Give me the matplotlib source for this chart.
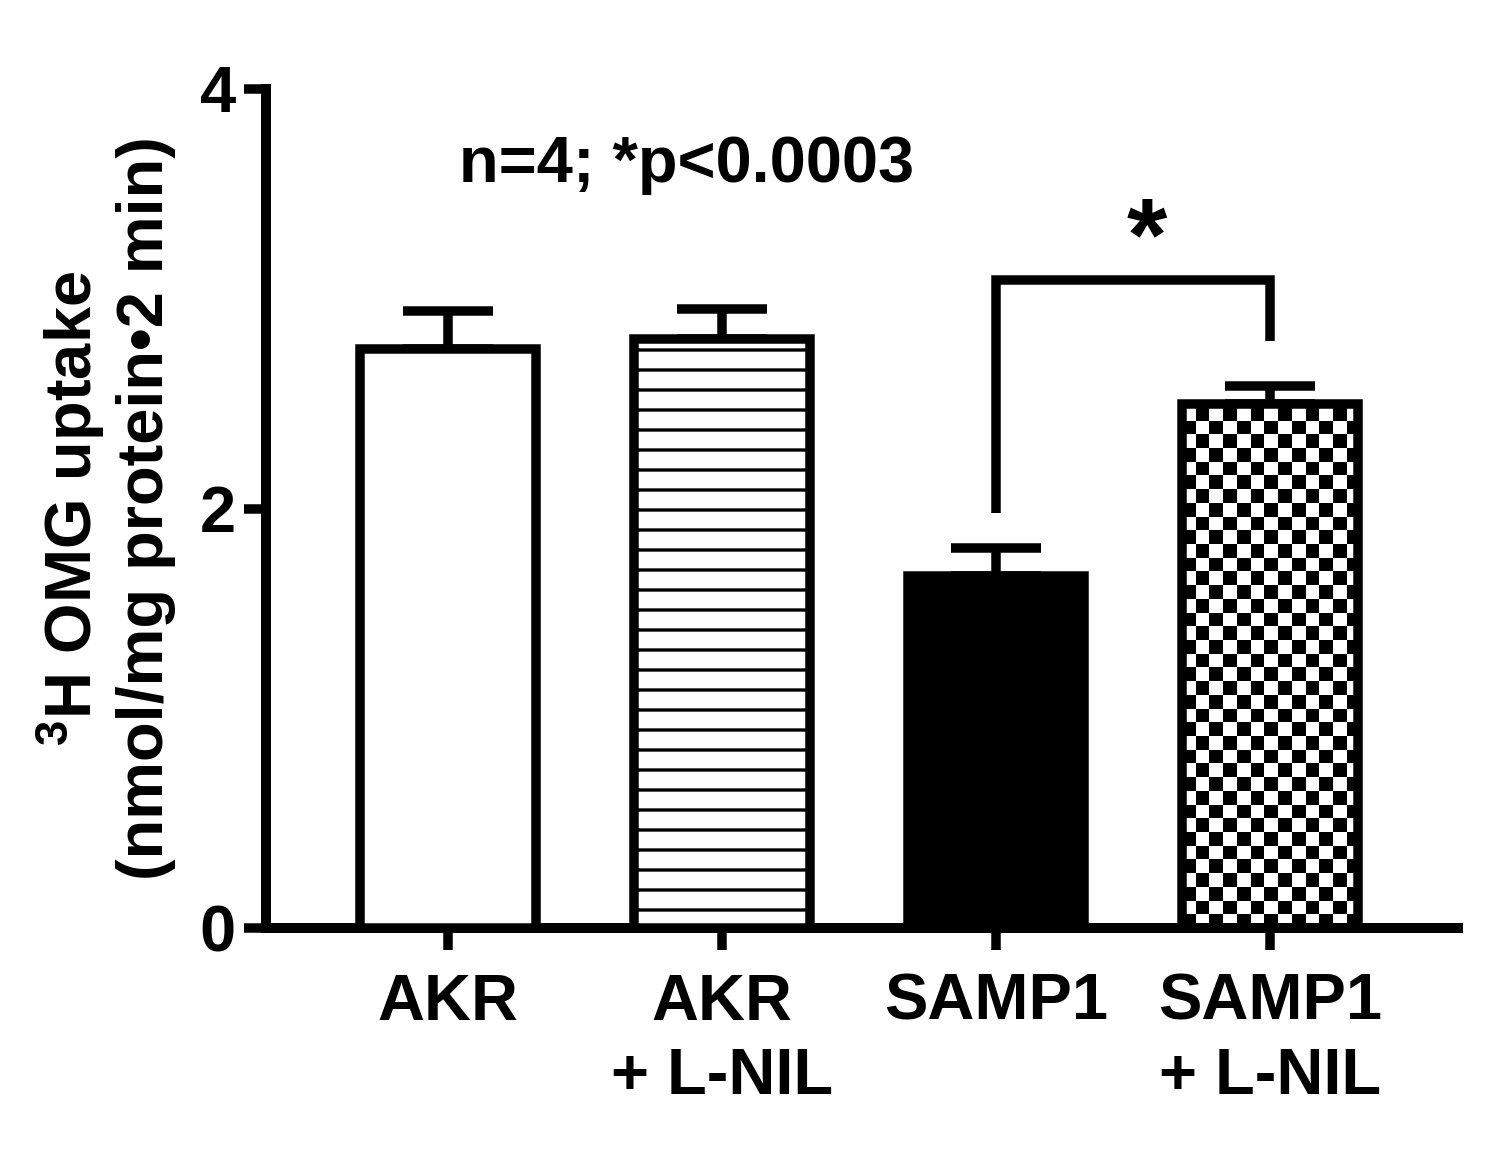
import matplotlib
matplotlib.use('Agg')
import matplotlib.pyplot as plt
import numpy as np

plt.rcParams['font.family'] = ['Liberation Sans', 'DejaVu Sans']
plt.rcParams['font.weight'] = 'bold'
plt.rcParams['mathtext.default'] = 'regular'
plt.rcParams['hatch.linewidth'] = 2.0

# data
groups = ['AKR', 'AKR\n+ L-NIL', 'SAMP1', 'SAMP1\n+ L-NIL']
uptake = [2.76, 2.81, 1.68, 2.50]
sem = [0.18, 0.14, 0.13, 0.085]
fills = ['white', 'white', 'black', 'white']

# significance bracket between SAMP1 and SAMP1 + L-NIL
brk_x = [2, 2, 3, 3]
brk_y = [1.98, 3.09, 3.09, 2.80]
star_pos = (2.55, 3.26)
note = 'n=4; *p<0.0003'
note_pos = (0.87, 3.64)

LW = 5.7
FS = 39

fig = plt.figure(figsize=(1501/120, 1150/120), dpi=120)
ax = fig.add_axes([266/1501, 1-928/1150, (1458-266)/1501, (928-89)/1150])

xpos = np.arange(len(groups))
barWidth = 0.64
bars = ax.bar(xpos, uptake, width=barWidth, color=fills, edgecolor='black', linewidth=LW, zorder=3)
bars[1].set_hatch('-')

# checkerboard fill for last bar, clipped to the bar
b = bars[3]
cx, cy = 0.05, 0.0653
x0, w, h = b.get_x(), b.get_width(), b.get_height()
nx, ny = int(np.ceil(w/cx)), int(np.ceil(h/cy))
jj, ii = np.indices((ny, nx))
checker = (ii + jj) % 2
im = ax.imshow(checker, cmap='gray', interpolation='nearest', aspect='auto',
               extent=(x0, x0+nx*cx, 0, ny*cy), origin='lower', zorder=2.5)
im.set_clip_path(b)
b.set_facecolor('none')

ax.errorbar(xpos, uptake, yerr=[np.zeros(len(sem)), sem], fmt='none', ecolor='black',
            elinewidth=LW, capsize=27, capthick=LW, zorder=2)

ax.plot(brk_x, brk_y, color='black', linewidth=LW, solid_joinstyle='miter', solid_capstyle='butt')
ax.text(star_pos[0], star_pos[1], '*', fontsize=62, ha='center', va='center')
ax.text(note_pos[0], note_pos[1], note, fontsize=FS, ha='center', va='center')

ax.set_xlim(-0.664, 3.686)
ax.set_ylim(0, 4)
ax.set_xticks(xpos)
ax.set_xticklabels(groups, fontsize=FS, linespacing=1.3)
ax.set_yticks([0, 2, 4])
ax.tick_params(axis='y', labelsize=FS)
ax.tick_params(direction='out', length=13, width=LW, pad=5)
ax.tick_params(axis='x', pad=14)
for s in ['top', 'right']:
    ax.spines[s].set_visible(False)
for s in ['left', 'bottom']:
    ax.spines[s].set_linewidth(6)

ax.set_ylabel('$^{3}$H OMG uptake\n(nmol/mg protein\u20222 min)', fontsize=FS, fontweight='bold',
              labelpad=14, multialignment='center')

fig.savefig('out.png', dpi=120)
